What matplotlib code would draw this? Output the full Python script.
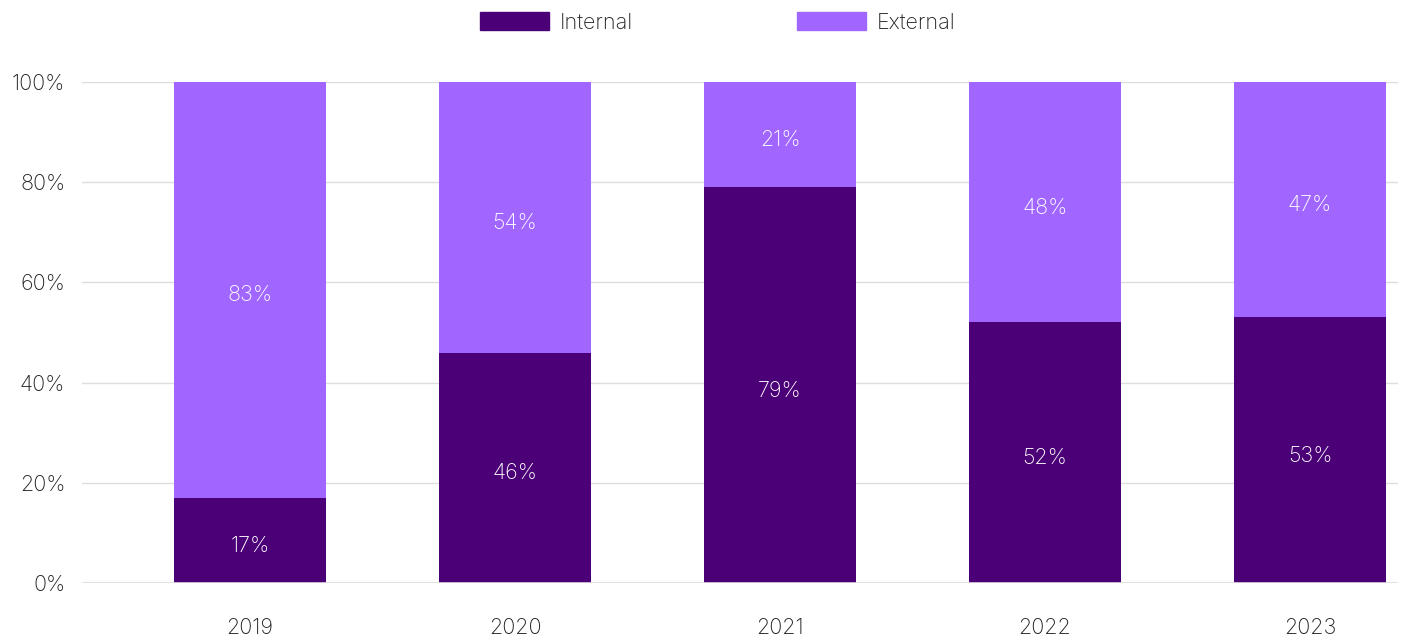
import matplotlib
matplotlib.use("Agg")
import matplotlib.pyplot as plt
from matplotlib.patches import Patch

years = ["2019", "2020", "2021", "2022", "2023"]
internal = [17, 46, 79, 52, 53]
external = [83, 54, 21, 48, 47]

C_INT = "#4b0078"
C_EXT = "#a066ff"
GRID = "#dddddd"
TXT = "#222222"
FS = 15.5

plt.rcParams["font.family"] = ["Inter", "DejaVu Sans"]
plt.rcParams["font.weight"] = "light"

fig = plt.figure(figsize=(14.13, 6.37), dpi=100)
ax = fig.add_axes([82 / 1413, 1 - 583 / 637, (1398 - 82) / 1413, (583 - 82) / 637])

x = range(len(years))
w = 0.57
ax.bar(x, internal, width=w, color=C_INT, zorder=3)
ax.bar(x, external, width=w, bottom=internal, color=C_EXT, zorder=3)
ax.axhline(0, color=GRID, lw=1.2, zorder=5)

for i in x:
    ax.annotate(f"{internal[i]}%", (i, internal[i] / 2), xytext=(0, -4),
                textcoords="offset points", ha="center", va="center",
                color="white", fontsize=FS, zorder=4)
    ax.annotate(f"{external[i]}%", (i, internal[i] + external[i] / 2), xytext=(0, -4),
                textcoords="offset points", ha="center", va="center",
                color="white", fontsize=FS, zorder=4)

ax.set_xlim(-0.634, 4.332)
ax.set_ylim(0, 100)
ax.set_yticks(range(0, 101, 20))
ax.set_yticklabels([f"{v}%" for v in range(0, 101, 20)])
ax.set_xticks(list(x))
ax.set_xticklabels(years)
ax.yaxis.grid(True, color=GRID, lw=1, zorder=0)
for s in ax.spines.values():
    s.set_visible(False)
ax.tick_params(axis="both", length=0, labelsize=FS, colors=TXT)
ax.tick_params(axis="x", pad=25)
ax.tick_params(axis="y", pad=12)

handles = [Patch(color=C_INT, label="Internal"), Patch(color=C_EXT, label="External")]
fig.legend(handles=handles, loc="center", bbox_to_anchor=(0.508, 1 - 22 / 637), ncol=2,
           frameon=False, fontsize=FS, handlelength=3.2, handleheight=0.95,
           handletextpad=0.5, columnspacing=7.6, labelcolor=TXT)

fig.savefig("out.png", dpi=100)
